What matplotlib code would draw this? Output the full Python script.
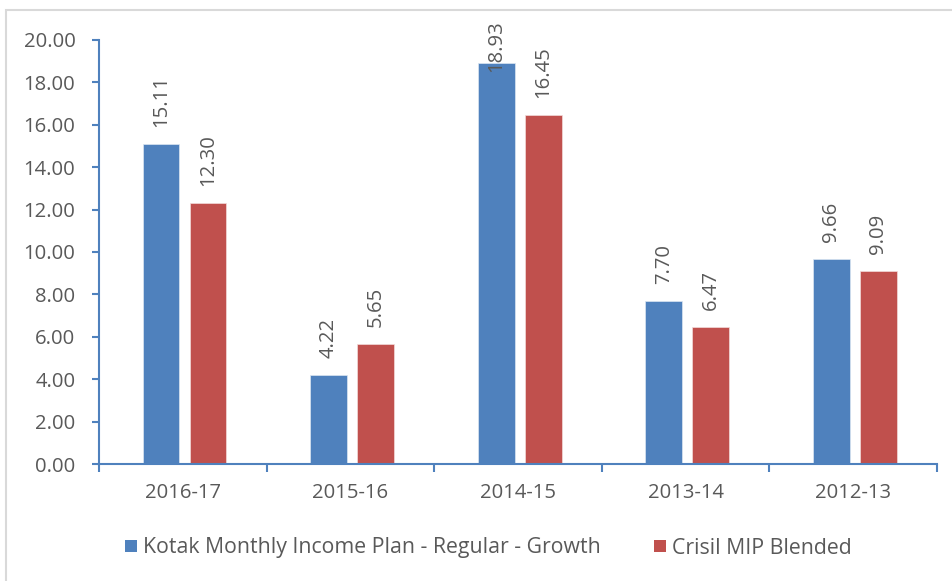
import numpy as np
import matplotlib
matplotlib.use("Agg")
from matplotlib import pyplot as plt
from matplotlib.patches import Patch, Rectangle

plt.rcParams['font.family'] = ['Open Sans', 'DejaVu Sans']

years = ['2016-17', '2015-16', '2014-15', '2013-14', '2012-13']
kotak = [15.11, 4.22, 18.93, 7.70, 9.66]
crisil = [12.30, 5.65, 16.45, 6.47, 9.09]
series_names = ['Kotak Monthly Income Plan - Regular - Growth', 'Crisil MIP Blended']

BLUE = '#4F81BD'
RED = '#C0504D'
TEXT = '#595959'
FS = 14.6

fig = plt.figure(figsize=(9.53, 5.81), dpi=100)
ax = fig.add_axes([99 / 953, 1 - 464 / 581, (937 - 99) / 953, (464 - 40) / 581])

# light grey chart frame
fig.patches.append(Rectangle((6 / 953, -0.1), 2, 1 - 10 / 581 + 0.1, transform=fig.transFigure,
                             fill=False, edgecolor='#D9D9D9', linewidth=1.5))

x = np.arange(len(years))
width = 0.22
off = 0.14
ax.bar(x - off + 0.01, kotak, width, color=BLUE, edgecolor='#dce6f2', linewidth=0.5)
ax.bar(x + off + 0.01, crisil, width, color=RED, edgecolor='#f2dcdb', linewidth=0.5)

ax.set_xlim(-0.5, len(years) - 0.5)
ax.set_ylim(0, 20)
ax.set_yticks(np.arange(0, 20.01, 2))
ax.set_yticklabels([f'{v:.2f}' for v in np.arange(0, 20.01, 2)])
ax.set_xticks(x)
ax.set_xticklabels(years)
ax.set_xticks(np.arange(-0.5, len(years), 1), minor=True)

for s in ['top', 'right']:
    ax.spines[s].set_visible(False)
for s in ['left', 'bottom']:
    ax.spines[s].set_color(BLUE)
    ax.spines[s].set_linewidth(1.5)

ax.tick_params(axis='y', colors=BLUE, labelcolor=TEXT, labelsize=FS, length=5, width=1.5, pad=12)
ax.tick_params(axis='x', which='major', length=0, labelcolor=TEXT, labelsize=FS, pad=14)
ax.tick_params(axis='x', which='minor', length=6, width=1.5, color=BLUE)

# value labels, rotated; pushed down when they'd run off the chart
label_pad = 0.8
label_len = 2.4
top_limit = (464 - 20) / 21.2
for xs, vals in [(x - off + 0.01, kotak), (x + off + 0.01, crisil)]:
    for xi, v in zip(xs, vals):
        if v + label_pad + label_len > top_limit:
            ax.text(xi, top_limit, f'{v:.2f}', rotation=90, ha='center', va='top',
                    fontsize=FS, color=TEXT, clip_on=False)
        else:
            ax.text(xi, v + label_pad, f'{v:.2f}', rotation=90, ha='center', va='bottom',
                    fontsize=FS, color=TEXT, clip_on=False)

handles = [Patch(facecolor=BLUE), Patch(facecolor=RED)]
fig.legend(handles, series_names, loc='center', bbox_to_anchor=(488.5 / 953, 1 - 548 / 581),
           ncol=2, frameon=False, fontsize=15.3, labelcolor=TEXT,
           handlelength=0.56, handleheight=0.56, handletextpad=0.3, columnspacing=2.5)

fig.savefig('out.png', dpi=100)
